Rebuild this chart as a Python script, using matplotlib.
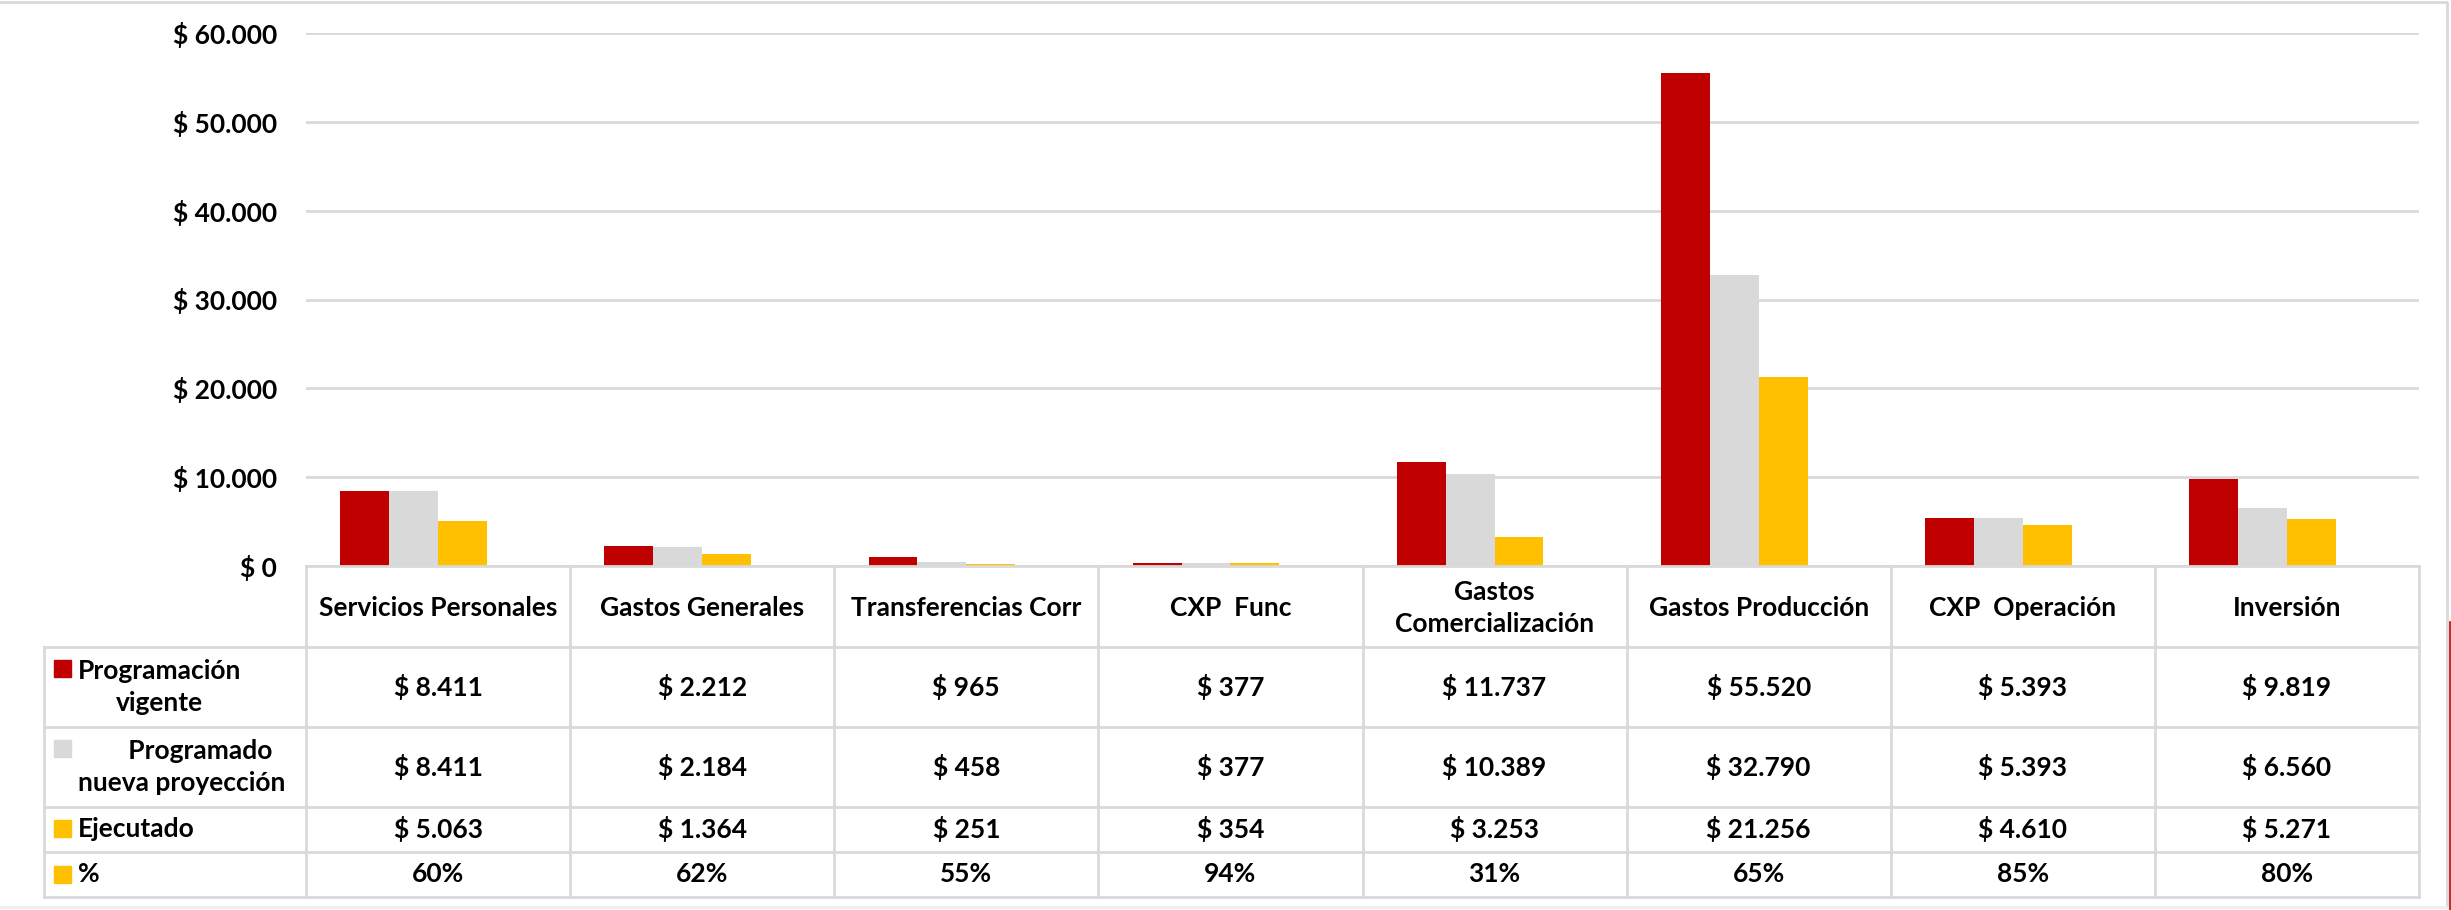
import matplotlib
matplotlib.use('Agg')
import matplotlib.pyplot as plt
from matplotlib.patches import Rectangle

plt.rcParams['font.family'] = ['Lato', 'DejaVu Sans']
plt.rcParams['font.weight'] = 'bold'

# datos (millones)
categorias = ['Servicios Personales', 'Gastos Generales', 'Transferencias Corr', 'CXP  Func',
              'Gastos\nComercialización', 'Gastos Producción', 'CXP  Operación', 'Inversión']
prog_vigente = [8411, 2212, 965, 377, 11737, 55520, 5393, 9819]
prog_nueva = [8411, 2184, 458, 377, 10389, 32790, 5393, 6560]
ejecutado = [5063, 1364, 251, 354, 3253, 21256, 4610, 5271]
porcentaje = [60, 62, 55, 94, 31, 65, 85, 80]

series = ['Programación\nvigente', '      Programado\nnueva proyección', 'Ejecutado', '%']
colores = ['#C00000', '#D9D9D9', '#FFC000', '#FFC000']
gris = '#D9D9D9'

W, H = 2451, 910
fig = plt.figure(figsize=(W / 100, H / 100), dpi=100)


def caja(x0, y0, x1, y1):
    return [x0 / W, 1 - y1 / H, (x1 - x0) / W, (y1 - y0) / H]


def pesos(v):
    return '$ ' + f'{v:,}'.replace(',', '.')


FS = 19

# ---- grafico de barras ----
ax = fig.add_axes(caja(306, 33, 2419, 566))
ancho = 0.185
valores = [prog_vigente, prog_nueva, ejecutado, [p / 100 for p in porcentaje]]
for k, (vals, c) in enumerate(zip(valores, colores)):
    xs = [i + (k - 1.5) * ancho for i in range(len(categorias))]
    ax.bar(xs, vals, width=ancho, color=c, zorder=3)

ax.set_xlim(-0.5, len(categorias) - 0.5)
ax.set_ylim(0, 60000)
ax.set_yticks(range(0, 60001, 10000))
ax.set_yticklabels([pesos(v) for v in range(0, 60001, 10000)], fontsize=FS, fontweight='bold')
ax.tick_params(axis='y', length=0, pad=21)
ax.set_xticks([])
ax.grid(axis='y', color=gris, lw=2, zorder=0)
for s in ['top', 'right', 'left']:
    ax.spines[s].set_visible(False)
ax.spines['bottom'].set_color(gris)
ax.spines['bottom'].set_linewidth(2)
ax.spines['bottom'].set_zorder(4)

# ---- tabla de datos ----
izq = -0.5 - (306 - 44) / ((2419 - 306) / len(categorias))
tx = fig.add_axes(caja(44, 566, 2419, 897))
tx.set_xlim(izq, len(categorias) - 0.5)
tx.set_ylim(897, 566)
tx.axis('off')

filas = [566, 647, 727, 807, 852, 897]
for y in filas[1:]:
    tx.plot([izq, len(categorias) - 0.5], [y, y], color=gris, lw=2, clip_on=False)
tx.plot([izq, izq], [filas[1], filas[-1]], color=gris, lw=2, clip_on=False)
for i in range(len(categorias) + 1):
    tx.plot([i - 0.5, i - 0.5], [filas[0], filas[-1]], color=gris, lw=2, clip_on=False)

for i, cat in enumerate(categorias):
    tx.text(i, (filas[0] + filas[1]) / 2 + 2, cat, ha='center', va='center',
            fontsize=FS, fontweight='bold', linespacing=1.4)

datos_tabla = [[pesos(v) for v in prog_vigente],
               [pesos(v) for v in prog_nueva],
               [pesos(v) for v in ejecutado],
               [f'{p}%' for p in porcentaje]]
for r, fila in enumerate(datos_tabla):
    yc = (filas[r + 1] + filas[r + 2]) / 2
    for i, t in enumerate(fila):
        tx.text(i, yc, t, ha='center', va='center', fontsize=FS, fontweight='bold')

# claves de leyenda
px = (len(categorias) - 0.5 - izq) / (2419 - 44)
sw_y = [660, 740, 820, 866]
for r, (nombre, c) in enumerate(zip(series, colores)):
    x0 = izq + (54 - 44) * px
    tx.add_patch(Rectangle((x0, sw_y[r] + 17), 17 * px, -17, color=c, clip_on=False))
    yc = (filas[r + 1] + filas[r + 2]) / 2
    tx.text(izq + (78 - 44) * px, yc, nombre, ha='left', va='center', fontsize=FS,
            fontweight='bold', multialignment='center', linespacing=1.4)

# borde del grafico
fig.add_artist(plt.Line2D([0, 2447 / W, 2447 / W], [1 - 2 / H, 1 - 2 / H, 1 - 907 / H],
                          color=gris, lw=2, transform=fig.transFigure))
fig.add_artist(plt.Line2D([0, 2447 / W], [1 - 907 / H, 1 - 907 / H],
                          color='#EEEEEE', lw=2, transform=fig.transFigure))
fig.add_artist(plt.Line2D([2449.5 / W, 2449.5 / W], [1 - 622 / H, 0],
                          color='#C00000', lw=1.2, transform=fig.transFigure))

fig.savefig('out.png', dpi=100, facecolor='white')
